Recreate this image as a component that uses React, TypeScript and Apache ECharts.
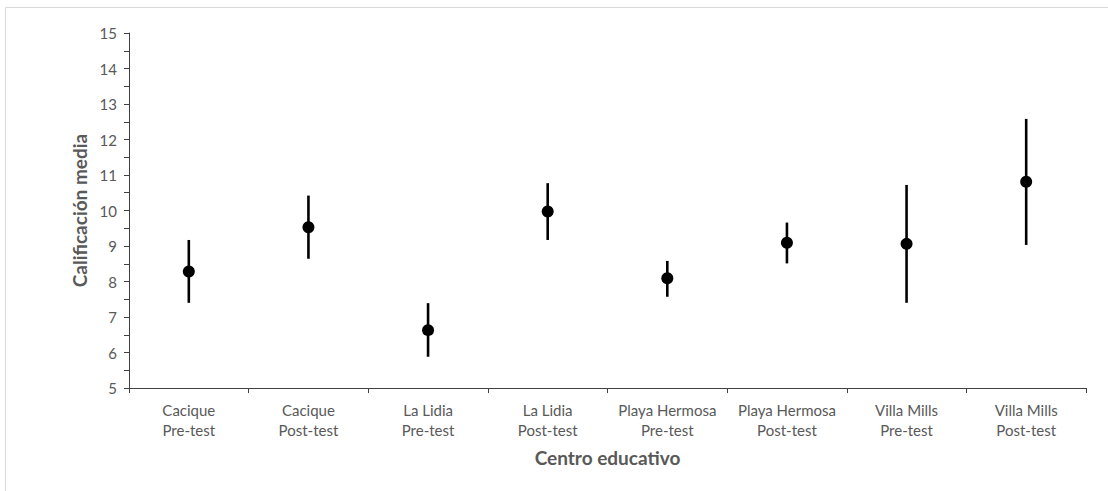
import React, { useEffect, useRef } from "react";
import * as echarts from "echarts";

// Mean score per school and test moment, with the ends of each interval
const categories = [
  "Cacique\nPre-test",
  "Cacique\nPost-test",
  "La Lidia\nPre-test",
  "La Lidia\nPost-test",
  "Playa Hermosa\nPre-test",
  "Playa Hermosa\nPost-test",
  "Villa Mills\nPre-test",
  "Villa Mills\nPost-test",
];
const means = [8.28, 9.53, 6.63, 9.97, 8.09, 9.09, 9.06, 10.81];
const lows = [7.4, 8.64, 5.88, 9.17, 7.57, 8.51, 7.4, 9.03];
const highs = [9.17, 10.42, 7.39, 10.77, 8.58, 9.66, 10.72, 12.58];

const FONT = "Lato, 'Noto Sans', sans-serif";
const TEXT = "#595959";
const AXIS = "#404040";

export default function App() {
  const ref = useRef<HTMLDivElement>(null);

  useEffect(() => {
    document.body.style.margin = "0";
    if (!ref.current) return;
    const chart = echarts.init(ref.current, undefined, { renderer: "svg" });

    const intervals = categories.map((_, i) => [i, lows[i], highs[i]]);

    chart.setOption({
      animation: false,
      backgroundColor: "#ffffff",
      graphic: [
        {
          type: "rect",
          shape: { x: 5.5, y: 7.5, width: 1200, height: 600 },
          style: { fill: "none", stroke: "#d9d9d9", lineWidth: 1 },
          silent: true,
          z: -10,
        },
      ],
      grid: { left: 129, right: 22, top: 33, bottom: 103 },
      xAxis: {
        type: "category",
        data: categories,
        boundaryGap: true,
        name: "Centro educativo",
        nameLocation: "middle",
        nameGap: 60,
        nameTextStyle: {
          fontFamily: FONT,
          fontSize: 19,
          fontWeight: "bold",
          color: TEXT,
        },
        axisLine: { lineStyle: { color: AXIS, width: 1 } },
        axisTick: { show: true, length: 5, lineStyle: { color: AXIS } },
        axisLabel: {
          fontFamily: FONT,
          fontSize: 15,
          color: TEXT,
          lineHeight: 20,
          margin: 12,
          interval: 0,
        },
        splitLine: { show: false },
      },
      yAxis: {
        type: "value",
        min: 5,
        max: 15,
        interval: 1,
        name: "Calificación media",
        nameLocation: "middle",
        nameGap: 40,
        nameTextStyle: {
          fontFamily: FONT,
          fontSize: 19,
          fontWeight: "bold",
          color: TEXT,
        },
        axisLine: { show: true, lineStyle: { color: AXIS, width: 1 } },
        axisTick: { show: true, length: 5, lineStyle: { color: AXIS } },
        minorTick: { show: true, splitNumber: 2, length: 5, lineStyle: { color: AXIS } },
        axisLabel: {
          fontFamily: FONT,
          fontSize: 15,
          color: TEXT,
          margin: 12,
        },
        splitLine: { show: false },
      },
      series: [
        {
          type: "custom",
          data: intervals,
          encode: { x: 0, y: [1, 2] },
          renderItem: (params: any, api: any) => {
            const x = api.value(0);
            const lo = api.coord([x, api.value(1)]);
            const hi = api.coord([x, api.value(2)]);
            return {
              type: "line",
              shape: { x1: lo[0], y1: lo[1], x2: hi[0], y2: hi[1] },
              style: { stroke: "#000000", lineWidth: 2.6 },
            };
          },
          z: 2,
        },
        {
          type: "scatter",
          data: means,
          symbol: "circle",
          symbolSize: 12,
          itemStyle: { color: "#000000", opacity: 1 },
          z: 3,
        },
      ],
    });

    return () => chart.dispose();
  }, []);

  return <div ref={ref} style={{ width: 1108, height: 491 }} />;
}
